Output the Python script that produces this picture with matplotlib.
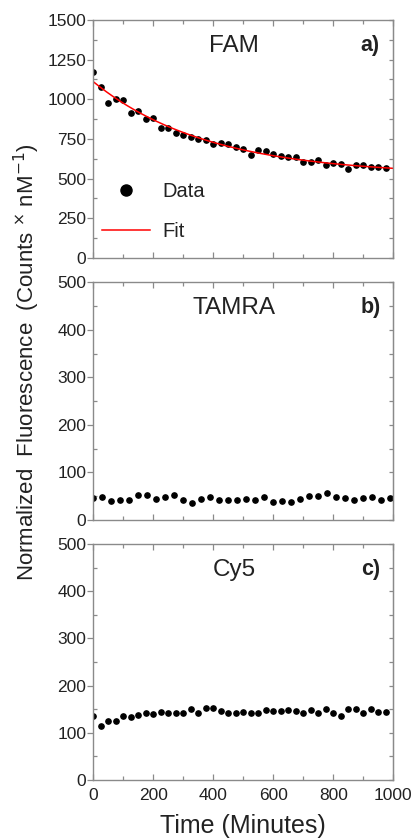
import numpy as np
import matplotlib
matplotlib.use('Agg')
import matplotlib.pyplot as plt
from matplotlib.ticker import MultipleLocator

plt.rcParams['font.family'] = ['Liberation Sans', 'DejaVu Sans']

# FAM, 25 min spacing
t_fam = np.arange(0, 1000, 25)
fam = [1174, 1080, 979, 1000, 996, 912, 927, 878, 880, 820,
       820, 786, 773, 761, 752, 744, 719, 727, 719, 702,
       689, 652, 681, 677, 656, 645, 635, 635, 605, 603,
       618, 584, 597, 593, 559, 589, 589, 572, 572, 565]

# exponential fit: plateau + amp * exp(-t / tau)
fit_plateau = 522
fit_amp = 589
fit_tau = 382

# TAMRA, 30 min spacing
t_tamra = np.arange(0, 1000, 30)
tamra = [46, 48, 40, 42, 43, 53, 53, 45, 48, 52,
         41, 36, 45, 48, 42, 42, 42, 45, 42, 49,
         38, 39, 38, 45, 50, 50, 57, 49, 47, 42,
         46, 49, 43, 47]

# Cy5, 25 min spacing
t_cy5 = np.arange(0, 1000, 25)
cy5 = [136, 115, 126, 124, 136, 133, 138, 141, 139, 144,
       143, 143, 143, 150, 141, 153, 153, 146, 143, 143,
       145, 143, 143, 148, 146, 147, 148, 146, 143, 149,
       143, 151, 143, 136, 150, 150, 141, 150, 145, 145]

GRAY = '#8a8a8a'
TXT = '#222222'


def style_axes(ax, ymax, ymajor, show_x):
    ax.set_xlim(0, 1000)
    ax.set_ylim(0, ymax)
    ax.xaxis.set_major_locator(MultipleLocator(200))
    ax.xaxis.set_minor_locator(MultipleLocator(100))
    ax.yaxis.set_major_locator(MultipleLocator(ymajor))
    ax.yaxis.set_minor_locator(MultipleLocator(ymajor / 2))
    for s in ax.spines.values():
        s.set_color(GRAY)
        s.set_linewidth(1.0)
    ax.tick_params(axis='both', which='both', colors=GRAY, labelcolor=TXT,
                   labelsize=12.5, width=0.9)
    ax.tick_params(axis='y', which='major', direction='out', length=4,
                   pad=1, left=True, right=False)
    ax.tick_params(axis='y', which='minor', direction='in', length=3,
                   left=True, right=True)
    ax.tick_params(axis='x', which='both', direction='in', length=3,
                   top=True, bottom=True, pad=6)
    ax.tick_params(axis='x', which='major', length=4)
    # right side major ticks inward
    ax2 = ax.secondary_yaxis('right')
    ax2.yaxis.set_major_locator(MultipleLocator(ymajor))
    ax2.tick_params(which='major', direction='in', length=3, colors=GRAY,
                    labelright=False, width=0.9)
    ax2.spines['right'].set_color(GRAY)
    if not show_x:
        ax.tick_params(axis='x', labelbottom=False)


fig = plt.figure(figsize=(4.16, 8.4), dpi=100)
left, width = 0.2243, 0.7212
ax_a = fig.add_axes([left, 0.6929, width, 0.2833])
ax_b = fig.add_axes([left, 0.3810, width, 0.2830])
ax_c = fig.add_axes([left, 0.0714, width, 0.2810])

# a) FAM
t_line = np.linspace(0, 1000, 300)
ax_a.plot(t_fam, fam, 'o', color='black', ms=3.8, label='Data')
ax_a.plot(t_line, fit_plateau + fit_amp * np.exp(-t_line / fit_tau),
          color='red', lw=1.1, label='Fit')
style_axes(ax_a, 1500, 250, False)
ax_a.legend(loc='upper left', bbox_to_anchor=(0.028, 0.32), frameon=False,
            fontsize=14.5, markerscale=2.1, handlelength=2.4, handletextpad=0.6,
            labelspacing=1.05, borderpad=0, borderaxespad=0,
            labelcolor=TXT)

# b) TAMRA
ax_b.plot(t_tamra, tamra, 'o', color='black', ms=3.8)
style_axes(ax_b, 500, 100, False)

# c) Cy5
ax_c.plot(t_cy5, cy5, 'o', color='black', ms=3.8)
style_axes(ax_c, 500, 100, True)

for ax, name, tag in [(ax_a, 'FAM', 'a)'), (ax_b, 'TAMRA', 'b)'), (ax_c, 'Cy5', 'c)')]:
    ax.text(0.47, 0.89, name, transform=ax.transAxes, ha='center', va='center',
            fontsize=17.5, color=TXT)
    ax.text(0.923, 0.893, tag, transform=ax.transAxes, ha='center', va='center',
            fontsize=15.5, fontweight='bold', color=TXT)

fig.text(0.585, 1 - 826 / 840, 'Time (Minutes)', ha='center', va='center',
         fontsize=18, color=TXT)
fig.text(27 / 416, 1 - 362 / 840,
         'Normalized  Fluorescence  (Counts $^{\\times}$ nM$^{-1}$)',
         rotation=90, ha='center', va='center', fontsize=16, color=TXT)

fig.savefig('out.png', dpi=100)
